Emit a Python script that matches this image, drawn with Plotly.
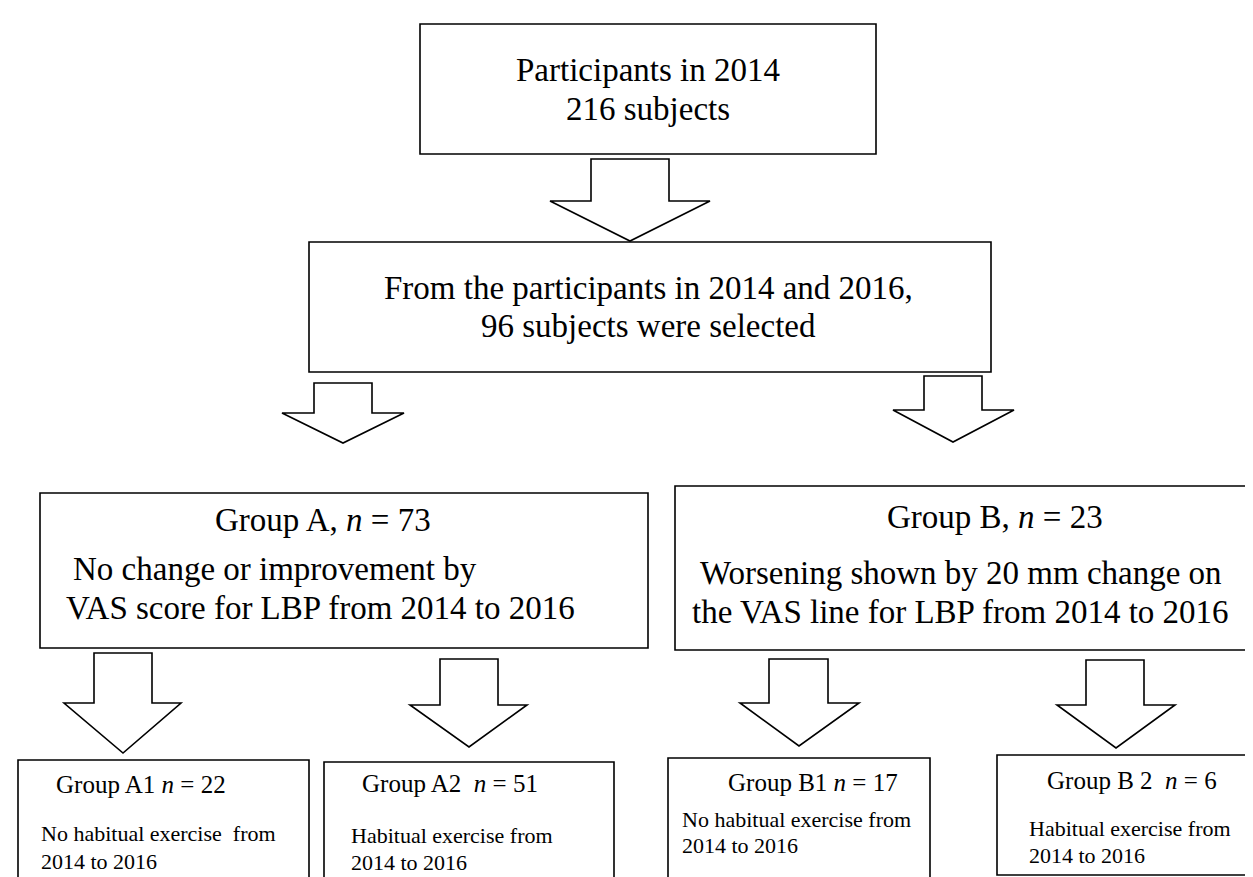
import plotly.graph_objects as go

# ---------------- content ----------------
top_title = "Participants in 2014"
top_count = 216
sel_line1 = "From the participants in 2014 and 2016,"
sel_count = 96

group_names = ["A", "B"]
group_n = [73, 23]
group_desc = [
    ["No change or improvement by", "VAS score for LBP from 2014 to 2016"],
    ["Worsening shown by 20 mm change on", "the VAS line for LBP from 2014 to 2016"],
]

sub_names = ["A1", "A2 ", "B1", "B 2 "]
sub_n = [22, 51, 17, 6]
sub_desc = [
    ["No habitual exercise  from", "2014 to 2016"],
    ["Habitual exercise from", "2014 to 2016"],
    ["No habitual exercise from", "2014 to 2016"],
    ["Habitual exercise from", "2014 to 2016"],
]

# ---------------- layout geometry (pixels, y downward) ----------------
W, H = 1253, 877
FONT = "Liberation Serif, Times New Roman, serif"
LW = 1.6
INK = "#000"

boxes = {
    "top": (412, 868, 16, 146),
    "sel": (301, 983, 234, 364),
    "A": (32, 640, 485, 640),
    "B": (667, 1262, 478, 642),
    "A1": (10, 301, 752, 895),
    "A2": (316, 606, 754, 895),
    "B1": (660, 922, 750, 895),
    "B2": (989, 1251, 747, 867),
}

# arrows: shaft left, shaft right, top, shoulder, head left, head right, tip x, tip y
arrows = [
    (583, 661, 151, 193, 542, 702, 622, 233),
    (306, 364, 375, 405, 274, 396, 335, 435),
    (916, 974, 368, 402, 885, 1006, 945, 434),
    (86, 144, 645, 695, 56, 173, 115, 745),
    (432, 490, 651, 697, 402, 519, 461, 739),
    (761, 820, 651, 695, 732, 851, 791, 738),
    (1078, 1136, 652, 697, 1049, 1167, 1108, 740),
]

fig = go.Figure()
shapes = []
for (x0, x1, y0, y1) in boxes.values():
    shapes.append(dict(type="rect", xref="x", yref="y", x0=x0, x1=x1, y0=y0, y1=y1,
                       line=dict(color=INK, width=LW), fillcolor="rgba(0,0,0,0)"))
for (sl, sr, t, sh, hl, hr, tx, ty) in arrows:
    path = (f"M {sl},{t} L {sr},{t} L {sr},{sh} L {hr},{sh} L {tx},{ty} "
            f"L {hl},{sh} L {sl},{sh} Z")
    shapes.append(dict(type="path", xref="x", yref="y", path=path,
                       line=dict(color=INK, width=LW), fillcolor="white"))

ann = []


def txt(x, y, s, size, anchor="left"):
    ann.append(dict(x=x, y=y, xref="x", yref="y", text=s, showarrow=False,
                    xanchor=anchor, yanchor="middle",
                    font=dict(family=FONT, size=size, color=INK)))


BIG = 33
txt(640, 62, top_title, BIG, "center")
txt(640, 101, f"{top_count} subjects", BIG, "center")
txt(640, 280, sel_line1, BIG, "center")
txt(640, 318, f"{sel_count} subjects were selected", BIG, "center")

# group boxes
g_title_x = [205, 877]
g_title_y = [512, 509]
g_desc_x = [[63, 56], [690, 682]]
g_desc_y = [[561, 600], [565, 604]]
for i in range(2):
    txt(g_title_x[i], g_title_y[i],
        f"Group {group_names[i]}, <i>n</i> = {group_n[i]}", BIG)
    for j in range(2):
        txt(g_desc_x[i][j], g_desc_y[i][j], group_desc[i][j], BIG)

# sub-group boxes
s_title_x = [46, 352, 718, 1037]
s_title_y = [776, 775, 774, 772]
s_desc_x = [31, 341, 672, 1019]
s_desc_y = [[825, 853], [827, 854], [811, 837], [820, 847]]
for i in range(4):
    txt(s_title_x[i], s_title_y[i],
        f"Group {sub_names[i]} <i>n</i> = {sub_n[i]}", 25)
    for j in range(2):
        txt(s_desc_x[i], s_desc_y[i][j], sub_desc[i][j], 22)

fig.update_layout(
    width=W, height=H,
    margin=dict(l=0, r=0, t=0, b=0),
    paper_bgcolor="white", plot_bgcolor="white",
    xaxis=dict(range=[0, W], visible=False, fixedrange=True),
    yaxis=dict(range=[H, 0], visible=False, fixedrange=True),
    shapes=shapes, annotations=ann, showlegend=False,
)

fig.write_html("out.html")
